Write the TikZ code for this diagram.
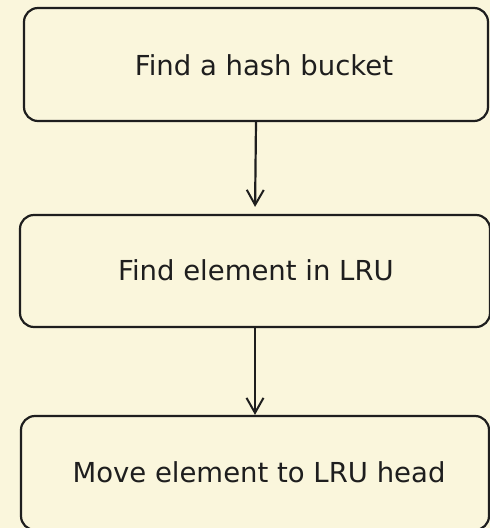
\documentclass[tikz,border=0pt]{standalone}
\usepackage{fontspec}
\setmainfont{DejaVu Sans}
\usetikzlibrary{arrows.meta}
\definecolor{bgc}{RGB}{250,246,220}
\definecolor{ink}{RGB}{30,30,30}
\tikzset{
  stepbox/.style={draw=ink, line width=2.2pt, rounded corners=14pt, fill=bgc,
    font=\fontsize{27.5}{32}\selectfont, text=ink, inner sep=0pt},
  flow/.style={draw=ink, line width=2.2pt, -{Straight Barb[length=15pt,width=17pt,line width=2pt]}}
}
\begin{document}
\begin{tikzpicture}[x=1pt,y=1pt]
\fill[bgc] (0,0) rectangle (490,528);
\useasboundingbox (0,0) rectangle (490,528);
\node[stepbox, minimum width=464pt, minimum height=113pt] (b1) at (256,463.5) {};
\node[stepbox, minimum width=470pt, minimum height=112pt] (b2) at (255,257) {};
\node[stepbox, minimum width=468pt, minimum height=114pt] (b3) at (255,55) {};
\node[font=\fontsize{27.5}{32}\selectfont, text=ink] (t1) at (264,463) {Find a hash bucket};
\node[font=\fontsize{27.5}{32}\selectfont, text=ink] (t2) at (256,258) {Find element in LRU};
\node[font=\fontsize{27.5}{32}\selectfont, text=ink] (t3) at (259,56) {Move element to LRU head};
\draw[flow, shorten >=7pt] (b1.south) -- (b2.north);
\draw[flow] (b2.south) -- (b3.north);
\end{tikzpicture}
\end{document}
